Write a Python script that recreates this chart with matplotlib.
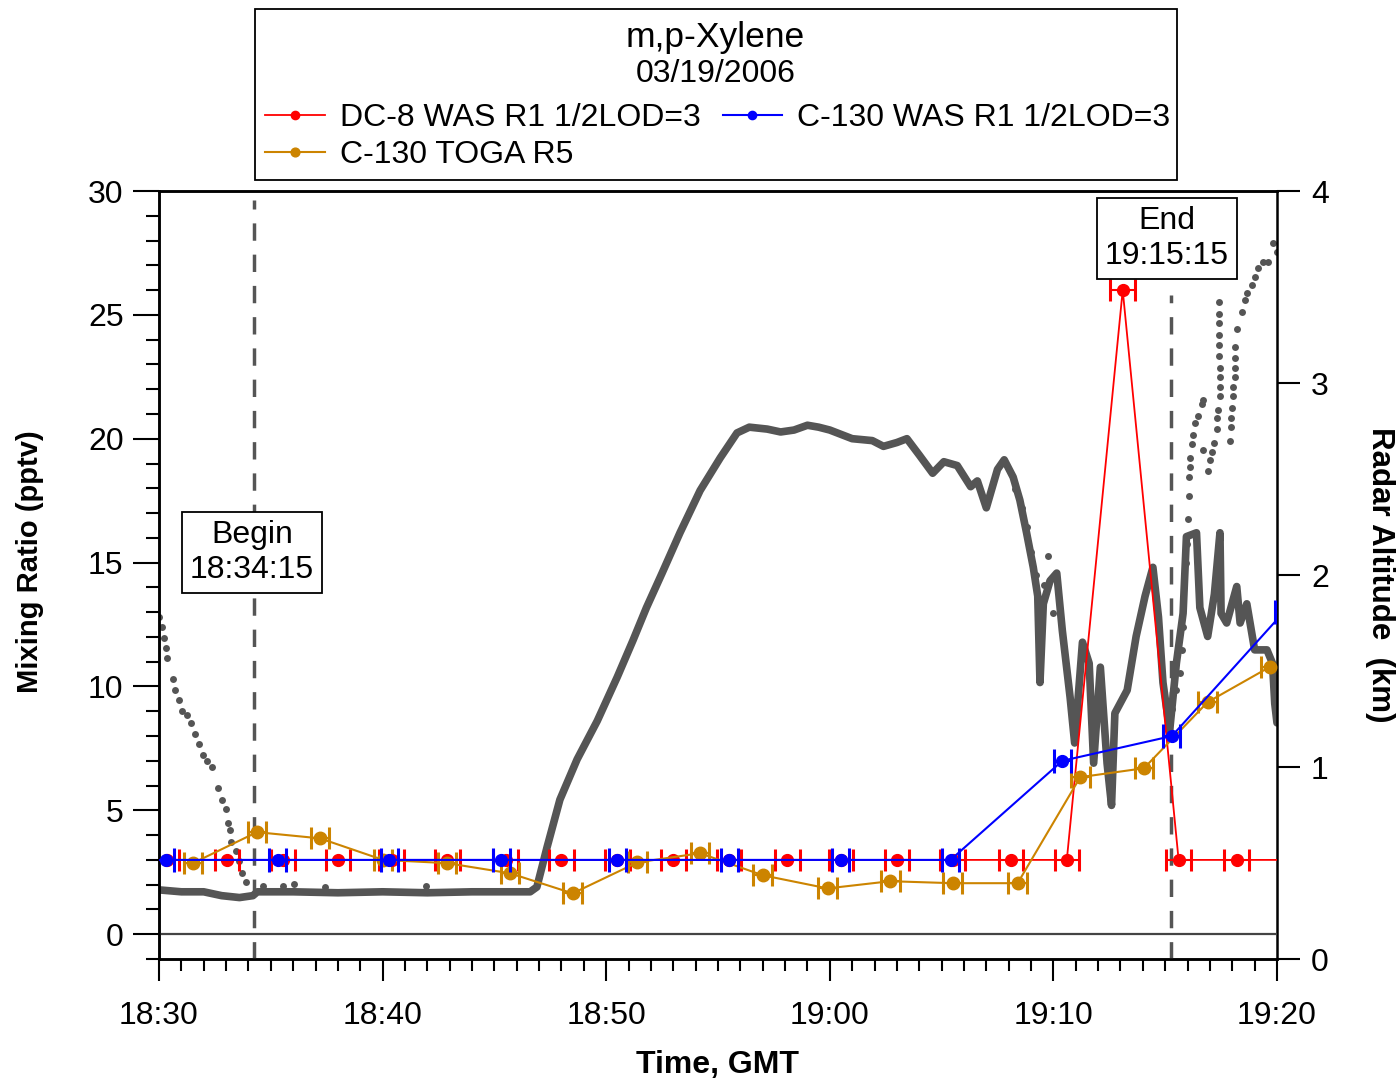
import matplotlib
matplotlib.use("Agg")
import matplotlib.pyplot as plt
from matplotlib import font_manager
from matplotlib.patches import Rectangle

# time axis in minutes after 18:30 GMT
time_ticks = [0, 10, 20, 30, 40, 50]
time_labels = ["18:30", "18:40", "18:50", "19:00", "19:10", "19:20"]

# DC-8 WAS R1 (pptv)
dc8_t = [0.36, 3.04, 5.55, 8.0, 10.4, 12.9, 15.5, 18.0, 20.5, 23.0, 25.5,
         28.1, 30.5, 33.0, 35.5, 38.1, 40.6, 43.1, 45.6, 48.2, 50.7]
dc8_v = [3, 3, 3, 3, 3, 3, 3, 3, 3, 3, 3, 3, 3, 3, 3, 3, 3, 26.0, 3, 3, 3]

# C-130 WAS R1 (pptv)
c130_t = [0.3, 5.3, 10.3, 15.3, 20.5, 25.5, 30.5, 35.4, 40.4, 45.3, 50.3]
c130_v = [3, 3, 3, 3, 3, 3, 3, 3, 7.0, 8.0, 13.0]

# C-130 TOGA R5 (pptv)
toga_t = [1.52, 4.38, 7.2, 10.02, 12.88, 15.7, 18.5, 21.4, 24.2, 27.0, 29.9,
          32.7, 35.5, 38.4, 41.2, 44.05, 46.9, 49.7]
toga_v = [2.87, 4.12, 3.87, 3.0, 2.87, 2.46, 1.65, 2.9, 3.27, 2.38, 1.85,
          2.14, 2.06, 2.06, 6.34, 6.7, 9.37, 10.8]

# radar altitude (km), dense record
alt_t = [0, 1.0, 2.0, 2.8, 3.6, 4.2, 4.4, 6, 8, 10, 12, 14, 16.0, 16.6,
         16.9, 17.35, 17.93, 18.7, 19.6, 20.5, 21.2, 21.8, 22.5, 23.3, 24.2,
         25.1, 25.85, 26.4, 27.2, 27.8, 28.4, 29.0, 29.5, 30.0, 31.0, 31.9,
         32.4, 33.0, 33.45, 34.0, 34.6, 35.1, 35.7, 36.3, 36.6, 37.0, 37.5,
         37.8, 38.2, 38.5, 38.8, 39.1, 39.3, 39.4, 39.55, 39.85, 40.15, 40.4,
         40.75, 40.95, 41.3, 41.6, 41.8, 42.1, 42.4, 42.6, 42.75, 43.3, 43.7,
         44.1, 44.45, 44.7, 44.9, 45.2, 45.5, 45.8, 45.95, 46.4, 46.55, 46.9,
         47.2, 47.45, 47.5, 47.75, 48.2, 48.35, 48.65, 49.0, 49.55, 49.8,
         49.9, 50.0]
alt_v = [0.36, 0.35, 0.35, 0.33, 0.32, 0.33, 0.35, 0.35, 0.345, 0.35, 0.345,
         0.35, 0.35, 0.35, 0.375, 0.58, 0.83, 1.04, 1.24, 1.47, 1.66, 1.83,
         2.01, 2.22, 2.44, 2.61, 2.74, 2.77, 2.76, 2.745, 2.755, 2.78, 2.77,
         2.755, 2.71, 2.70, 2.67, 2.69, 2.71, 2.625, 2.53, 2.59, 2.57, 2.46,
         2.49, 2.35, 2.55, 2.60, 2.51, 2.39, 2.22, 2.04, 1.89, 1.44, 1.85,
         1.97, 2.01, 1.71, 1.36, 1.125, 1.65, 1.54, 1.02, 1.52, 1.02, 0.80,
         1.28, 1.40, 1.68, 1.89, 2.04, 1.78, 1.44, 1.19, 1.54, 1.80, 2.20,
         2.22, 1.83, 1.68, 1.9, 2.22, 1.80, 1.75, 1.94, 1.75, 1.85, 1.61,
         1.61, 1.54, 1.33, 1.23]

# radar altitude (km), sparse record
alt2_t = [0.0, 0.13, 0.22, 0.31, 0.36, 0.63, 0.72, 0.89, 1.03, 1.25, 1.43,
          1.61, 1.79, 1.97, 2.15, 2.37, 2.64, 2.82, 3.0, 3.09, 3.18, 3.22,
          3.44, 3.58, 3.71, 3.89, 4.65, 5.55, 6.04, 7.42, 11.94,
          38.3, 38.6, 38.8, 39.0, 39.2, 39.6, 39.75, 40.0,
          45.1, 45.3, 45.5, 45.66, 45.75, 45.8, 45.8, 45.85, 45.93, 45.97,
          46.02, 46.06, 46.06, 46.1, 46.1, 46.2, 46.25, 46.33, 46.47, 46.64,
          46.7, 46.7, 46.9, 47.0, 47.1, 47.2, 47.3, 47.3, 47.36, 47.45, 47.45,
          47.45, 47.45, 47.4, 47.4, 47.4, 47.4, 47.4, 47.4,
          47.9, 47.94, 47.94, 47.99, 48.03, 48.03, 48.1, 48.1, 48.1, 48.1,
          48.2, 48.43, 48.57, 48.66, 48.9, 49.0, 49.15, 49.37, 49.6, 49.8,
          50.0]
alt2_v = [1.78, 1.73, 1.67, 1.62, 1.57, 1.46, 1.40, 1.35, 1.29, 1.27, 1.23,
          1.17, 1.12, 1.06, 1.03, 1.00, 0.89, 0.83, 0.78, 0.71, 0.67, 0.61,
          0.56, 0.51, 0.45, 0.40, 0.38, 0.38, 0.39, 0.375, 0.38,
          2.45, 2.35, 2.25, 2.12, 2.0, 1.95, 2.1, 1.8,
          1.2, 1.3, 1.4, 1.49, 1.61, 1.73, 1.85, 1.96, 2.06, 2.16,
          2.29, 2.41, 2.51, 2.56, 2.61, 2.68, 2.73, 2.79, 2.83, 2.89,
          2.91, 2.65, 2.54, 2.60, 2.64, 2.69, 2.76, 2.82, 2.86, 2.93, 2.98,
          3.03, 3.08, 3.14, 3.2, 3.25, 3.31, 3.36, 3.42,
          2.70, 2.77, 2.82, 2.87, 2.93, 2.98, 3.03, 3.08, 3.13, 3.19,
          3.28, 3.37, 3.43, 3.47, 3.51, 3.55, 3.6, 3.63, 3.63, 3.73,
          3.68]

begin_t, end_t = 4.25, 45.25

RED = "#ff0000"
BLUE = "#0000ff"
GOLD = "#cc8400"
GRAY = "#555555"

names = {f.name for f in font_manager.fontManager.ttflist}
narrow = "Liberation Sans Narrow" if "Liberation Sans Narrow" in names else "Liberation Sans"
leg_size = 27 if narrow == "Liberation Sans Narrow" else 23
title_size = 27 if narrow == "Liberation Sans Narrow" else 25.5

plt.rcParams["font.family"] = ["Liberation Sans", "DejaVu Sans"]

W, H = 1399, 1084


def fx(px):
    return px / W


def fy(py):
    return 1 - py / H


def main():
    fig = plt.figure(figsize=(W / 100, H / 100), dpi=100)
    ax = fig.add_axes([0.11365, 0.11531, 0.79914, 0.70849])
    ax2 = ax.twinx()
    ax.set_zorder(2)
    ax2.set_zorder(1)
    ax.patch.set_visible(False)

    # altitude behind everything
    ax2.plot(alt_t, alt_v, color=GRAY, lw=5.5, solid_joinstyle="round",
             solid_capstyle="round")
    ax2.plot(alt2_t, alt2_v, "o", color=GRAY, ms=5, mec="none")
    ax2.set_ylim(0, 4)
    ax2.set_yticks([0, 1, 2, 3, 4])

    ax.axhline(0, color="#444444", lw=1.6, zorder=1)
    ax.axvline(begin_t, ymax=0.988, color=GRAY, lw=2.5, dashes=(5, 4), zorder=1)
    ax.axvline(end_t, ymax=0.865, color=GRAY, lw=2.5, dashes=(5, 4), zorder=1)

    e_dc8 = ax.errorbar(dc8_t, dc8_v, xerr=0.55, color=RED, lw=1.3, marker="o",
                        ms=8.5, capsize=8, capthick=2.2, elinewidth=1.5, zorder=3)
    e_toga = ax.errorbar(toga_t, toga_v, xerr=0.42, color=GOLD, lw=1.5, marker="o",
                         ms=9, capsize=8, capthick=2.2, elinewidth=1.5, zorder=3)
    e_c130 = ax.errorbar(c130_t, c130_v, xerr=0.38, color=BLUE, lw=1.5, marker="o",
                         ms=8.5, capsize=8.5, capthick=2.2, elinewidth=1.5, zorder=4)

    ax.text(4.16, 15.4, "Begin\n18:34:15", ha="center", va="center", fontsize=23,
            bbox=dict(boxstyle="square,pad=0.25", fc="white", ec="black", lw=1.3),
            zorder=6)
    ax.text(45.08, 28.08, "End\n19:15:15", ha="center", va="center", fontsize=23,
            bbox=dict(boxstyle="square,pad=0.25", fc="white", ec="black", lw=1.3),
            zorder=6)

    ax.set_xlim(0, 50)
    ax.set_ylim(-1, 30)
    ax.set_xticks(time_ticks)
    ax.set_xticklabels(time_labels)
    ax.set_xticks(range(0, 51), minor=True)
    ax.set_yticks([0, 5, 10, 15, 20, 25, 30])
    ax.set_yticks(range(-1, 31), minor=True)

    ax.tick_params(axis="x", which="major", length=16, width=1.5, labelsize=23, pad=14)
    ax.tick_params(axis="x", which="minor", length=8.6, width=1.5)
    ax.tick_params(axis="y", which="major", length=18.5, width=1.5, labelsize=23, pad=7)
    ax.tick_params(axis="y", which="minor", length=9.4, width=1.5)
    ax2.tick_params(axis="y", which="major", length=16.5, width=1.5, labelsize=23, pad=8)

    for a in (ax, ax2):
        for s in a.spines.values():
            s.set_linewidth(1.8)
    ax.spines["right"].set_visible(False)

    fig.text(fx(30), fy(562), "Mixing Ratio (pptv)", rotation=90,
             ha="center", va="center", fontsize=21, fontweight="bold")
    fig.text(fx(1380), fy(575), "Radar Altitude  (km)", rotation=270,
             ha="center", va="center", fontsize=22.5, fontweight="bold")
    fig.text(fx(717), fy(1065), "Time, GMT", ha="center", va="center",
             fontsize=23, fontweight="bold")

    # legend block: frame, two title lines, entries
    fig.patches.append(Rectangle((fx(255), fy(180)), fx(1177) - fx(255), fy(9) - fy(180),
                                 transform=fig.transFigure, fc="white", ec="black",
                                 lw=1.3, zorder=0))
    fig.text(fx(715), fy(37), "m,p-Xylene", ha="center", va="center",
             family=narrow, fontsize=title_size)
    fig.text(fx(716), fy(74), "03/19/2006", ha="center", va="center",
             family=narrow, fontsize=leg_size)
    fig.legend([e_dc8[0], e_toga[0], e_c130[0]],
               ["DC-8 WAS R1 1/2LOD=3", "C-130 TOGA R5", "C-130 WAS R1 1/2LOD=3"],
               ncol=2, loc="upper left", bbox_to_anchor=(fx(265), fy(103)),
               prop={"family": narrow, "size": leg_size}, frameon=False,
               borderaxespad=0, borderpad=0, handlelength=1.87,
               markerscale=0.7, columnspacing=0.69, handletextpad=0.47,
               labelspacing=0.22)

    fig.savefig("out.png", dpi=100)


if __name__ == "__main__":
    main()
